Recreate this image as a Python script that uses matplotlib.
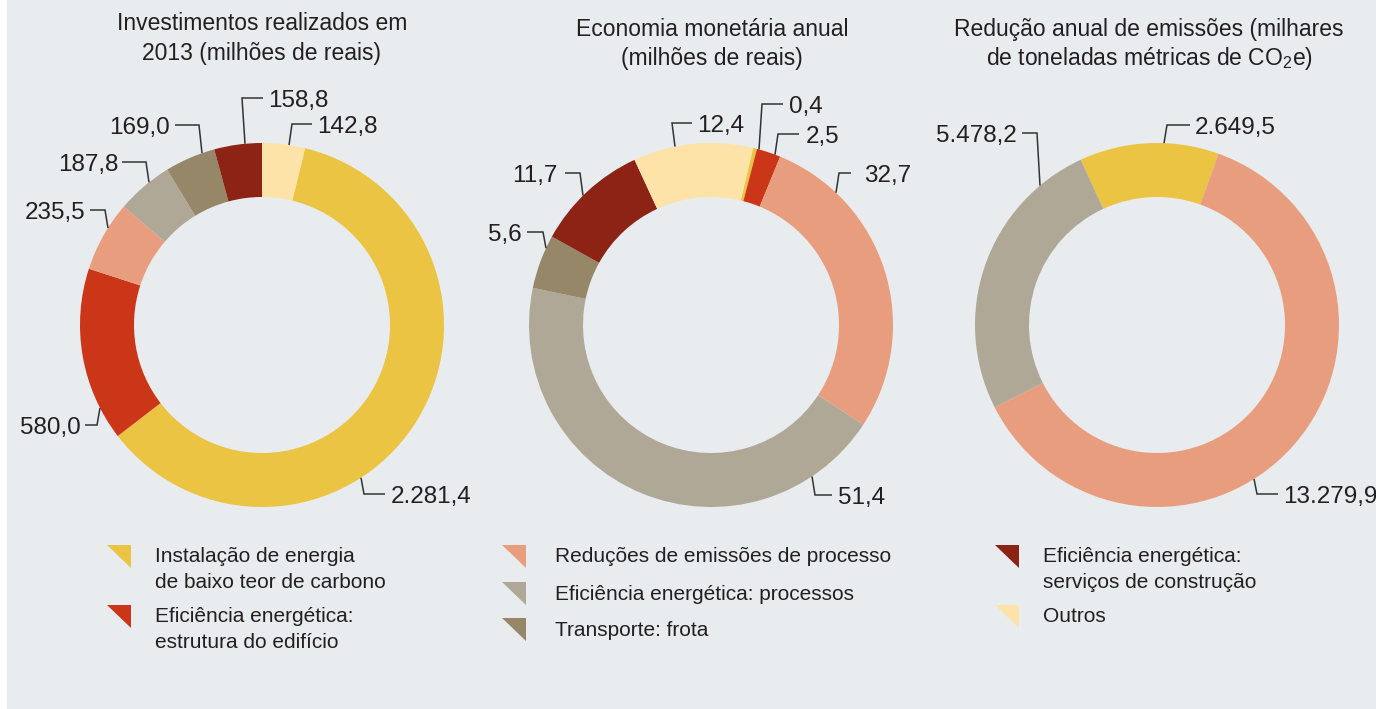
import matplotlib
matplotlib.use('Agg')
import matplotlib.pyplot as plt
from matplotlib.patches import Rectangle, Polygon
import numpy as np

plt.rcParams['font.family'] = ['Liberation Sans', 'DejaVu Sans']
plt.rcParams['mathtext.fontset'] = 'custom'
plt.rcParams['mathtext.rm'] = 'Liberation Sans'

W, H = 1376, 709

# dados
categorias = ['Instalação de energia\nde baixo teor de carbono',
              'Eficiência energética:\nestrutura do edifício',
              'Reduções de emissões de processo',
              'Eficiência energética: processos',
              'Transporte: frota',
              'Eficiência energética:\nserviços de construção',
              'Outros']
cores = ['#ebc443', '#cc3618', '#e89e7e', '#b0a896', '#968769', '#8c2315', '#fde3a7']

titulos = ['Investimentos realizados em\n2013 (milhões de reais)',
           'Economia monetária anual\n(milhões de reais)',
           'Redução anual de emissões (milhares\nde toneladas métricas de CO$_\\mathregular{2}$e)']

investimentos = [2281.4, 580.0, 235.5, 187.8, 169.0, 158.8, 142.8]
economia = [0.4, 2.5, 32.7, 51.4, 5.6, 11.7, 12.4]
emissoes = [2649.5, 13279.9, 5478.2]
emissoes_cat = [0, 2, 3]

BG = '#e8ecef'
TXT = '#231f20'
R = 182
LARG = 54


def fmt(v):
    s = f'{v:,.1f}'
    return s.replace(',', '#').replace('.', ',').replace('#', '.')


def txt(ax, x, y, s, size, ha='left'):
    # y = centro da altura das maiúsculas, em pixels de cima para baixo
    base = y + 0.36 * size * 100 / 72
    ax.text(x, H - base, s, fontsize=size, ha=ha, va='baseline', color=TXT)


def donut(ax, valores, idx, cx, cy, inicio, rotulos):
    ax.pie(valores, colors=[cores[i] for i in idx], startangle=inicio, counterclock=False,
           radius=R, center=(cx, H - cy), wedgeprops=dict(width=LARG, linewidth=0))
    for v, (ex, ey, hx, tx) in zip(valores, rotulos):
        px = ex + 3 * np.sign(cx - ex)
        dy = np.sqrt(R ** 2 - (px - cx) ** 2)
        py = cy - dy if ey < cy else cy + dy
        ax.plot([px, ex, hx], [H - py, H - ey, H - ey], color='#333333', lw=1.1,
                solid_joinstyle='miter', solid_capstyle='butt')
        txt(ax, tx, ey, fmt(v), 17.5, 'left' if tx > ex else 'right')


fig = plt.figure(figsize=(13.76, 7.09), dpi=100, facecolor='white')
ax = fig.add_axes([0, 0, 1, 1])
ax.add_patch(Rectangle((7, 0), W - 7, H, color=BG, zorder=0))

# (cotovelo x, cotovelo y, fim da linha x, texto x)
donut(ax, investimentos, range(7), 262, 325, 76.3,
      [(364, 494, 385, 391), (97, 425, 85, 81), (105, 210, 90, 85), (146, 162, 122, 118),
       (199, 125, 175, 170), (242, 98, 263, 268), (292, 124, 312, 317)])
donut(ax, economia, range(7), 711, 325, 76.6,
      [(762, 104, 783, 789), (778, 134, 799, 806), (839, 173, 851, 864), (815, 495, 832, 838),
       (543, 232, 527, 522), (580, 173, 565, 558), (672, 123, 692, 697)])
donut(ax, emissoes, emissoes_cat, 1157, 325, 114.8,
      [(1167, 125, 1190, 1195), (1257, 494, 1278, 1283), (1037, 133, 1022, 1017)])

# títulos
for t, x, ys in zip(titulos, [262, 712, 1149], [[22, 52], [28, 57], [28, 57]]):
    for linha, y in zip(t.split('\n'), ys):
        txt(ax, x, y, linha, 16.5, 'center')

# legenda
legenda = [(107, 155, [(0, 555), (1, 615)]),
           (502, 555, [(2, 555), (3, 592), (4, 628)]),
           (995, 1043, [(5, 555), (6, 615)])]
for mx, tx, itens in legenda:
    for i, y in itens:
        topo = y - 10
        ax.add_patch(Polygon([(mx, H - topo), (mx + 24, H - topo), (mx + 24, H - topo - 23)],
                             closed=True, color=cores[i], lw=0))
        for k, linha in enumerate(categorias[i].split('\n')):
            txt(ax, tx, y + 25 * k, linha, 15)

ax.set_xlim(0, W)
ax.set_ylim(0, H)
ax.axis('off')
fig.savefig('out.png', dpi=100, facecolor='white')
